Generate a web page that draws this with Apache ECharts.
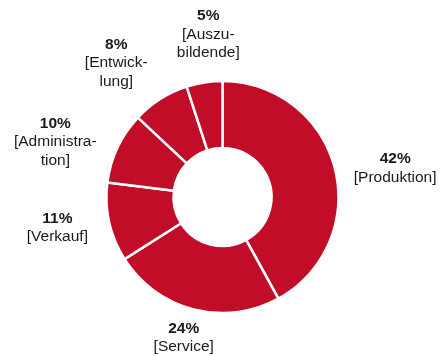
<!DOCTYPE html>
<html>
<head>
<meta charset="utf-8">
<script src="https://cdn.jsdelivr.net/npm/echarts@6/dist/echarts.min.js"></script>
<style>
  html, body { margin: 0; padding: 0; background: #fff; }
  #chart { width: 444px; height: 356px; }
</style>
</head>
<body>
<div id="chart"></div>
<script>
// Mitarbeiter nach Bereichen (Anteile in %)
const categories = ['Produktion', 'Service', 'Verkauf', 'Administration', 'Entwicklung', 'Auszubildende'];
const shares = [42, 24, 11, 10, 8, 5];
// Beschriftung mit Silbentrennung
const labelNames = ['[Produktion]', '[Service]', '[Verkauf]', '[Administra-\ntion]', '[Entwick-\nlung]', '[Auszu-\nbildende]'];

// Lage der Beschriftungen: Abstand vom Mittelpunkt (px) und Drehung gegen die Segmentmitte (Grad)
const labelRadius = [175, 146, 168, 176, 171, 163];
const labelTurn = [5, 1, 2, -7, -6, 4];

const CX = 222.5, CY = 197, R_IN = 49, R_OUT = 116;
const total = shares.reduce((a, b) => a + b, 0);
const midAngle = shares.map((v, i) => {
  const before = shares.slice(0, i).reduce((a, b) => a + b, 0);
  return (before + v / 2) / total * Math.PI * 2;
});

const chart = echarts.init(document.getElementById('chart'), null, { renderer: 'canvas' });
chart.setOption({
  animation: false,
  series: [{
    type: 'pie',
    center: [CX, CY],
    radius: [R_IN, R_OUT],
    startAngle: 90,
    clockwise: true,
    silent: true,
    itemStyle: { color: '#c10d28', borderColor: '#ffffff', borderWidth: 2.5 },
    labelLine: { show: false },
    label: {
      show: true,
      position: 'inside',
      rotate: 0,
      overflow: 'none',
      formatter: p => '{p|' + p.value + '%}\n{n|' + labelNames[p.dataIndex] + '}',
      rich: {
        p: { fontFamily: 'Liberation Sans, Arial, sans-serif', fontWeight: 'bold', fontSize: 15.5, lineHeight: 18.5, color: '#1a1a1a', align: 'center' },
        n: { fontFamily: 'Liberation Sans, Arial, sans-serif', fontSize: 15.5, lineHeight: 18.5, color: '#1a1a1a', align: 'center' }
      }
    },
    labelLayout: params => {
      const i = params.dataIndex;
      const a = midAngle[i] + labelTurn[i] * Math.PI / 180;
      return {
        x: CX + Math.sin(a) * labelRadius[i],
        y: CY - Math.cos(a) * labelRadius[i],
        align: 'center',
        verticalAlign: 'middle'
      };
    },
    data: categories.map((c, i) => ({ name: c, value: shares[i] }))
  }]
});
</script>
</body>
</html>
